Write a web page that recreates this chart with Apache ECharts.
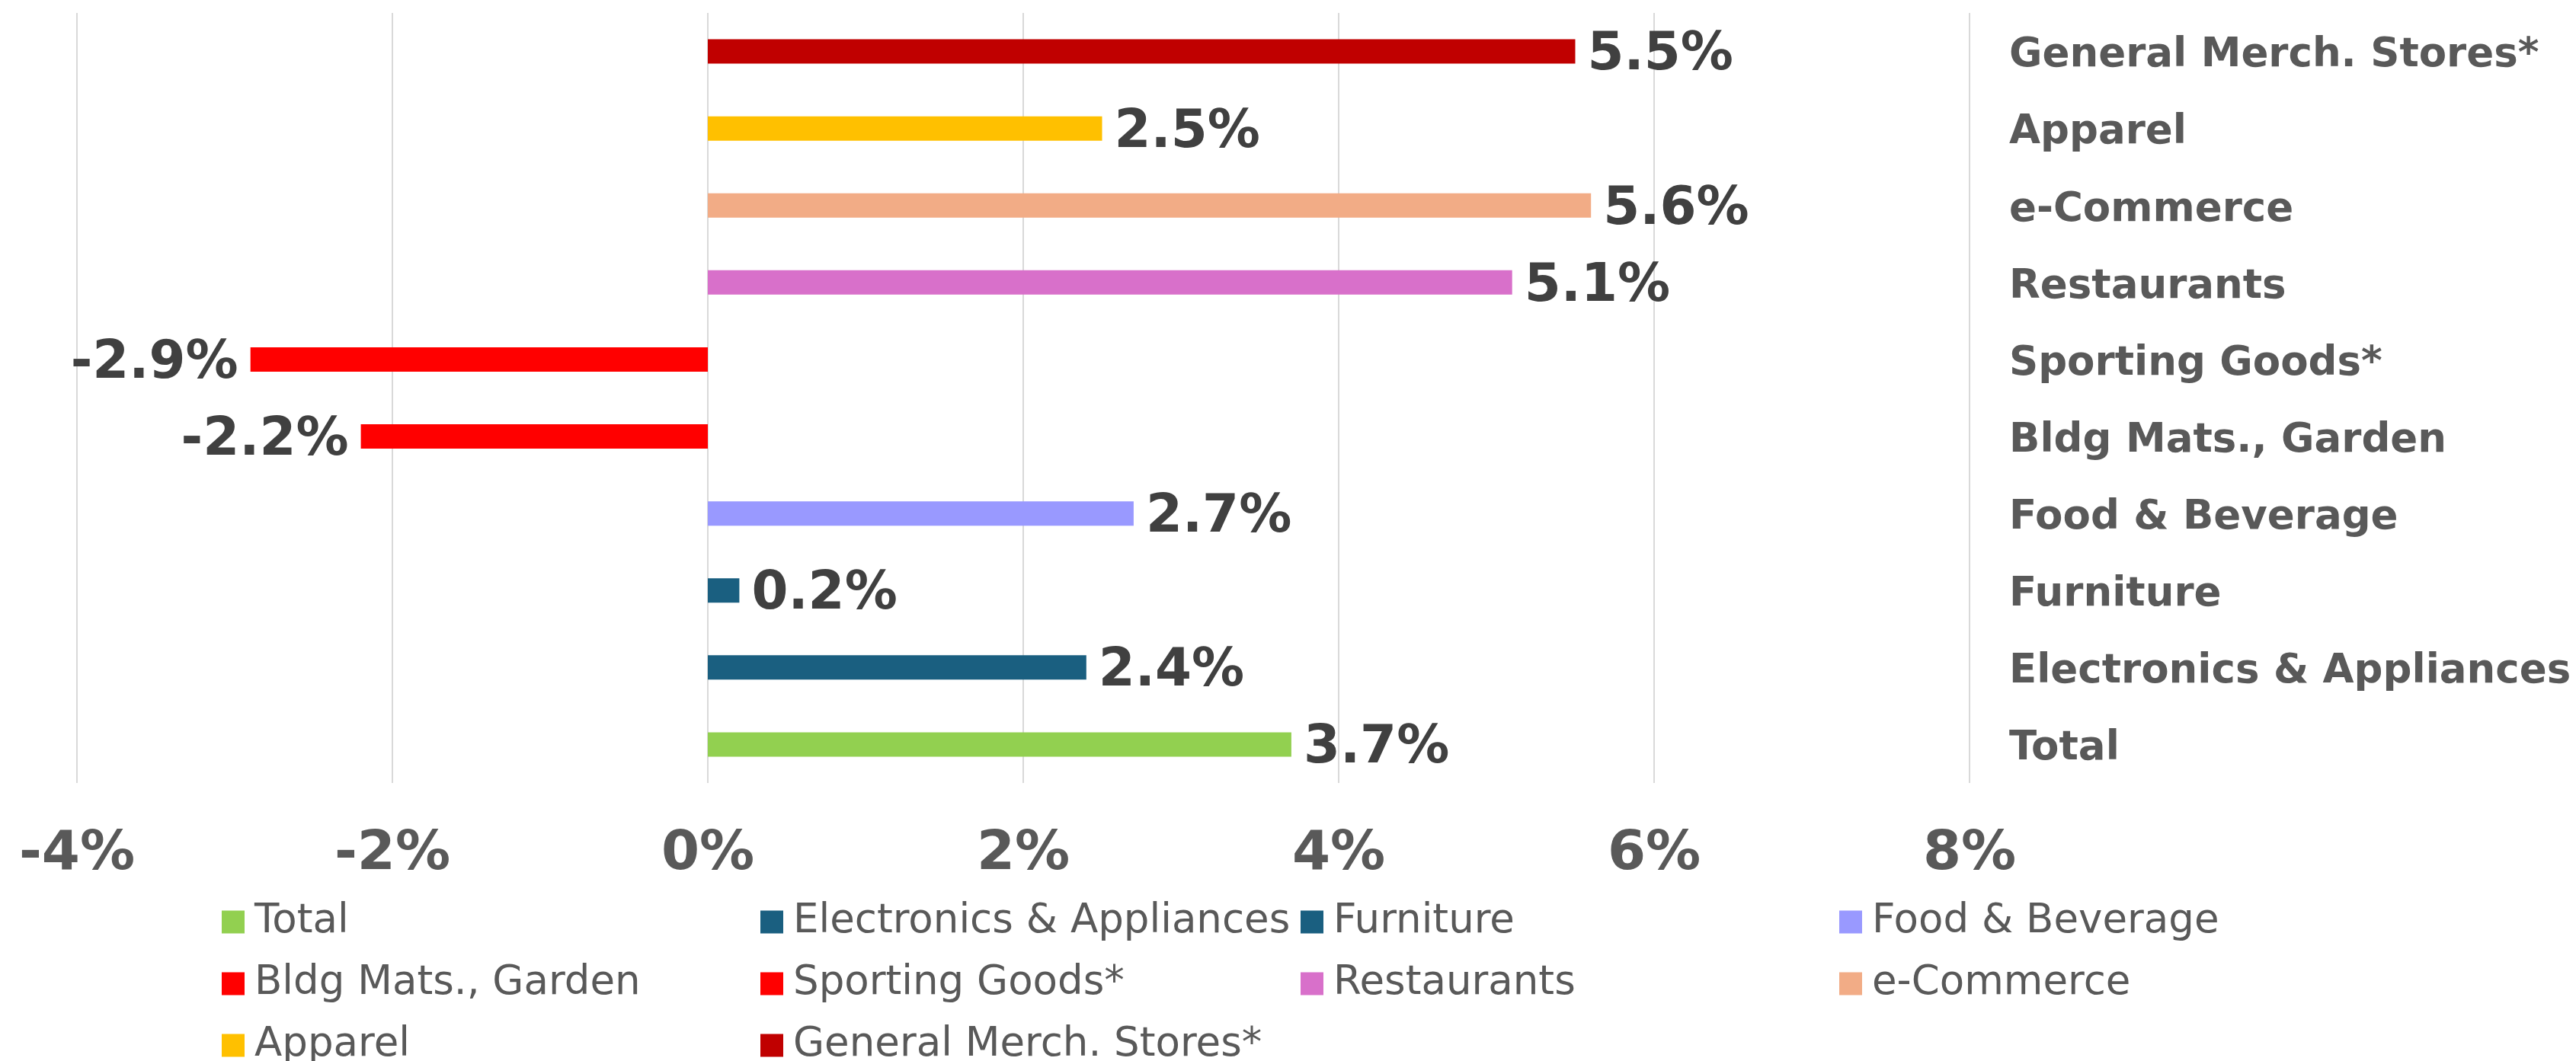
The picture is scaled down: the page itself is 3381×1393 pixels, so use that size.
<!DOCTYPE html>
<html>
<head>
<meta charset="utf-8">
<title>Retail sales growth by category</title>
<script src="https://cdn.jsdelivr.net/npm/echarts@6/dist/echarts.min.js"></script>
<style>
  html, body { margin: 0; padding: 0; background: #ffffff; }
  #chart { width: 3381px; height: 1393px; }
</style>
</head>
<body>
<div id="chart"></div>
<script>
// Categories listed bottom-to-top on the category axis (also the legend order)
const categories = [
  'Total',
  'Electronics & Appliances',
  'Furniture',
  'Food & Beverage',
  'Bldg Mats., Garden',
  'Sporting Goods*',
  'Restaurants',
  'e-Commerce',
  'Apparel',
  'General Merch. Stores*'
];

// Year-over-year change, percent
const values = [3.7, 2.4, 0.2, 2.7, -2.2, -2.9, 5.1, 5.6, 2.5, 5.5];

const barColors = [
  '#92D050', '#1A5F80', '#1A5F80', '#9999FF', '#FF0000',
  '#FF0000', '#D870CA', '#F2AC86', '#FFC000', '#C00000'
];

// Value axis ticks (percent)
const axisMin = -4;
const axisMax = 8;
const axisStep = 2;

// Legend grid: 4 columns x 3 rows
const legendCols = [291, 998, 1707, 2414];
const legendRows = [1210, 1291, 1372];

const FONT = '"DejaVu Sans", Verdana, sans-serif';

const chart = echarts.init(document.getElementById('chart'), null, { renderer: 'canvas' });

const series = categories.map((name, i) => ({
  name: name,
  type: 'bar',
  stack: 'growth',
  barWidth: 32,
  data: categories.map((c, j) => (j === i ? values[i] : '-')),
  itemStyle: { color: barColors[i] },
  label: {
    show: true,
    position: values[i] < 0 ? 'left' : 'right',
    distance: 16,
    offset: [0, 6],
    formatter: p => p.value.toFixed(1) + '%',
    color: '#404040',
    fontFamily: FONT,
    fontWeight: 'bold',
    fontSize: 69
  },
  emphasis: { disabled: true }
}));

const legends = categories.map((name, i) => ({
  show: true,
  data: [{ name: name, icon: 'rect' }],
  left: legendCols[i % 4],
  top: legendRows[Math.floor(i / 4)] - 26,
  padding: 0,
  itemWidth: 30,
  itemHeight: 30,
  textStyle: {
    color: '#595959',
    fontFamily: FONT,
    fontSize: 53,
    lineHeight: 52,
    padding: [0, 0, 0, 8]
  }
}));

chart.setOption({
  animation: false,
  backgroundColor: '#ffffff',
  grid: { left: 101, right: 796, top: 17, bottom: 365, containLabel: false },
  legend: legends,
  xAxis: {
    type: 'value',
    min: axisMin,
    max: axisMax,
    interval: axisStep,
    axisLine: { show: false },
    axisTick: { show: false },
    splitLine: { show: true, lineStyle: { color: '#D9D9D9', width: 2 } },
    axisLabel: {
      formatter: v => v + '%',
      color: '#595959',
      fontFamily: FONT,
      fontWeight: 'bold',
      fontSize: 72,
      margin: 58
    }
  },
  yAxis: {
    type: 'category',
    position: 'right',
    data: categories,
    axisLine: { show: false },
    axisTick: { show: false },
    splitLine: { show: false },
    axisLabel: {
      align: 'left',
      margin: 52,
      formatter: v => '{c|' + v + '}',
      rich: {
        c: {
          padding: [12, 0, 0, 0],
          color: '#595959',
          fontFamily: FONT,
          fontWeight: 'bold',
          fontSize: 53
        }
      }
    }
  },
  series: series
});
</script>
</body>
</html>
